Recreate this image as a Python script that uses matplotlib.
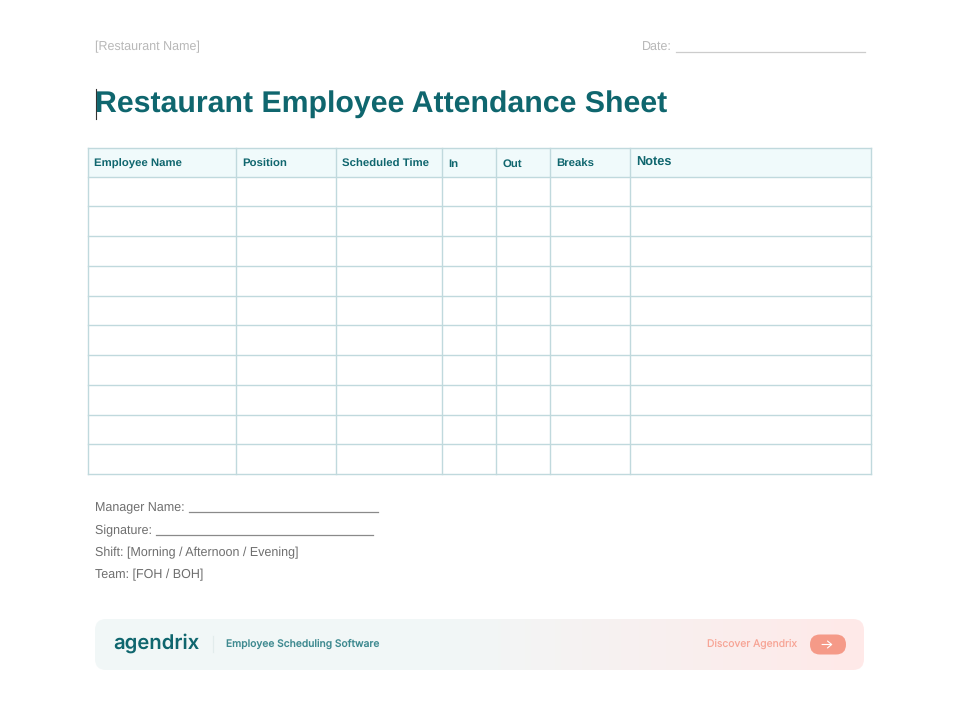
import matplotlib
matplotlib.use("Agg")
import matplotlib.pyplot as plt
import numpy as np
from matplotlib.patches import FancyBboxPatch, Rectangle

plt.rcParams["text.hinting"] = "no_hinting"
plt.rcParams["text.hinting_factor"] = 8

headers = ["Employee Name", "Position", "Scheduled Time", "In", "Out", "Breaks", "Notes"]
column_edges = [87.5, 235.5, 335.5, 442, 496, 550, 630, 871]
row_count = 10
footer_lines = [
    "Manager Name: ",
    "Signature: ",
    "Shift: [Morning / Afternoon / Evening]",
    "Team: [FOH / BOH]",
]

TEAL = "#0f666e"
GRID = "#c0d9dd"
HELV = ["Liberation Sans", "DejaVu Sans"]

fig = plt.figure(figsize=(9.6, 7.09), dpi=100)
ax = fig.add_axes([0, 0, 1, 1])
ax.set_xlim(0, 960)
ax.set_ylim(709, 0)
ax.axis("off")

# top line
ax.text(95, 50.6, "[Restaurant Name]", fontsize=9.0, color="#b8b8b8", family=HELV, va="baseline")
ax.text(642, 51, "Date:", fontsize=9.0, color="#b8b8b8", family=HELV, va="baseline")
ax.plot([676, 865], [51.7, 51.7], color="#cccccc", lw=0.9)

# title + text cursor
ax.text(95, 112, "Restaurant Employee Attendance Sheet", fontsize=21.8, fontweight="bold",
        color=TEAL, family=HELV, va="baseline")
ax.plot([95.7, 95.7], [89, 119], color="#333333", lw=0.8)

# table
top, head_bottom, bottom = 147.5, 176.7, 474.2
ax.add_patch(Rectangle((column_edges[0], top), column_edges[-1] - column_edges[0],
                       head_bottom - top, fc="#f0fafb", ec="none"))
row_h = (bottom - head_bottom) / row_count
for i in range(row_count + 1):
    y = head_bottom + i * row_h
    ax.plot([column_edges[0], column_edges[-1]], [y, y], color=GRID, lw=1.0)
ax.plot([column_edges[0], column_edges[-1]], [top, top], color=GRID, lw=1.0)
for x in column_edges:
    ax.plot([x, x], [top, bottom], color=GRID, lw=1.0)
for i, name in enumerate(headers):
    notes = name == "Notes"
    ax.text(column_edges[i] + 6.5, 166 if notes else 167, name, fontsize=9.2 if notes else 8.2,
            fontweight="bold", color=TEAL, family=HELV, va="baseline")

# footer fields
for line, y in zip(footer_lines, [511, 534, 556.7, 578.5]):
    ax.text(95, y, line, fontsize=9.0, color="#6e6e6e", family=HELV, va="baseline")
ax.plot([189, 378], [512.3, 512.3], color="#8a8a8a", lw=0.9)
ax.plot([156, 373], [535, 535], color="#8a8a8a", lw=0.9)

# banner with gradient
banner = FancyBboxPatch((95, 619), 769, 51, boxstyle="round,pad=0,rounding_size=11", fc="none", ec="none")
ax.add_patch(banner)
left_c = np.array([241, 247, 247]) / 255
right_c = np.array([255, 233, 232]) / 255
t = np.clip((np.linspace(0, 1, 256) - 0.45) / 0.55, 0, 1)[None, :, None]
grad = left_c[None, None, :] * (1 - t) + right_c[None, None, :] * t
im = ax.imshow(grad, extent=(95, 864, 670, 619), aspect="auto", zorder=1)
im.set_clip_path(banner)
ax.set_xlim(0, 960)
ax.set_ylim(709, 0)

ax.text(113, 643, "agendrix", fontsize=14.6, fontweight="semibold", color=TEAL, family="Inter", va="center", zorder=3)
ax.plot([213, 213], [636, 652], color="#e2ecec", lw=0.9, zorder=3)
ax.text(226, 644, "Employee Scheduling Software", fontsize=7.4, fontweight="medium", color="#3f8a90",
        family="Inter", va="center", zorder=3)
ax.text(707, 644, "Discover Agendrix", fontsize=7.45, color="#f7a596", family="Inter", va="center", zorder=3)

ax.add_patch(FancyBboxPatch((810, 634.5), 36, 20, boxstyle="round,pad=0,rounding_size=10",
                            fc="#f59a88", ec="none", zorder=3))
ax.annotate("", xy=(832.5, 644.5), xytext=(822, 644.5), zorder=4,
            arrowprops=dict(arrowstyle="->,head_length=0.3,head_width=0.25", color="white", lw=0.8,
                            shrinkA=0, shrinkB=0))

fig.savefig("out.png", dpi=100)
plt.close(fig)
